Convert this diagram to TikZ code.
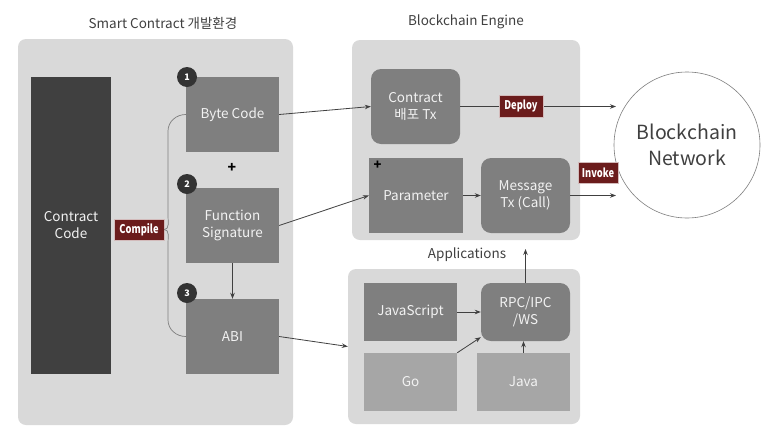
\documentclass[tikz,border=0pt]{standalone}
\usepackage{fontspec}
\setmainfont{Noto Sans CJK KR}
\usetikzlibrary{arrows.meta}
\definecolor{panel}{HTML}{D9D9D9}
\definecolor{boxg}{HTML}{7F7F7F}
\definecolor{boxl}{HTML}{A6A6A6}
\definecolor{darkbox}{HTML}{404040}
\definecolor{labred}{HTML}{6B1C1C}
\definecolor{txtdark}{HTML}{404040}
\definecolor{boxtxt}{HTML}{F2F2F2}
\definecolor{linec}{HTML}{404040}
\newcommand{\tagtxt}[1]{\scalebox{0.78}[1]{#1}}
\begin{document}
\begin{tikzpicture}[x=1pt,y=-1pt,
  panelbox/.style={fill=panel, rounded corners=8pt, inner sep=0pt, draw=none},
  gbox/.style={fill=boxg, text=boxtxt, inner sep=0pt, align=center, font=\fontsize{13.5}{17}\selectfont},
  rbox/.style={gbox, rounded corners=10pt},
  lbox/.style={gbox, fill=boxl},
  tag/.style={fill=labred, draw=white!70!labred, line width=0.4pt, text=white, inner sep=0pt, font=\fontsize{12}{12}\selectfont\bfseries},
  badge/.style={circle, fill=black!80, text=white, inner sep=0pt, minimum size=20pt, font=\fontsize{9}{9}\selectfont\bfseries},
  ttl/.style={text=txtdark, font=\fontsize{13.5}{16}\selectfont},
  conn/.style={draw=linec, line width=0.8pt, -{Stealth[length=6pt,width=4.5pt]}},
  bracket/.style={draw=boxg, line width=0.7pt}
]
\useasboundingbox (0,0) rectangle (768,437);
% panels
\node[panelbox, minimum width=275pt, minimum height=386pt] (leftp) at (155.5,232) {};
\node[panelbox, minimum width=228pt, minimum height=200pt] (engp) at (466,140) {};
\node[panelbox, minimum width=232pt, minimum height=155pt] (appp) at (464,346.5) {};
% titles
\node[ttl] (t1) at (163,23) {Smart Contract 개발환경};
\node[ttl] (t2) at (466,22) {Blockchain Engine};
\node[ttl] (t3) at (467,255) {Applications};
% network circle
\node[circle, draw=boxg, line width=0.6pt, fill=white, minimum size=146pt, inner sep=0pt, align=center,
      text=txtdark, font=\fontsize{19.5}{26}\selectfont] (net) at (687,145) {Blockchain\\Network};
% left boxes
\node[gbox, fill=darkbox, minimum width=80pt, minimum height=297pt] (cc) at (71,225.5) {Contract\\Code};
\node[gbox, minimum width=93pt, minimum height=75pt] (bc) at (232.5,114.5) {Byte Code};
\node[gbox, minimum width=93pt, minimum height=75pt] (fs) at (232.5,225.5) {Function\\Signature};
\node[gbox, minimum width=93pt, minimum height=75pt] (abi) at (232.5,336.5) {ABI};
\node[font=\fontsize{14}{14}\selectfont\bfseries] (plus1) at (232,168) {+};
% engine boxes
\node[rbox, minimum width=89pt, minimum height=75pt] (ctx) at (415.5,106.5) {Contract\\배포 Tx};
\node[gbox, minimum width=94pt, minimum height=75pt] (par) at (416,195.5) {Parameter};
\node[rbox, minimum width=89pt, minimum height=75pt] (msg) at (525.5,195.5) {Message\\Tx (Call)};
\node[font=\fontsize{13}{13}\selectfont\bfseries] (plus2) at (377.5,165) {+};
% application boxes
\node[gbox, minimum width=93pt, minimum height=58pt] (js) at (410.5,312) {JavaScript};
\node[rbox, minimum width=89pt, minimum height=58pt] (rpc) at (525.5,312) {RPC/IPC\\/WS};
\node[lbox, minimum width=93pt, minimum height=58pt] (go) at (410.5,382) {Go};
\node[lbox, minimum width=93pt, minimum height=58pt] (java) at (523.5,382) {Java};
% coordinates for free ends
\coordinate (depend) at (616,106.5);
\coordinate (invend) at (616,195.5);
\coordinate (upend) at (525.5,249);
% compile tag (needed for bracket)
\node[tag, minimum width=50pt, minimum height=21pt] (comp) at (139,229.5) {\tagtxt{Compile}};
% bracket
\draw[bracket] (bc.west) to[out=180,in=90] (168,131) -- (168,216) to[out=270,in=0] (comp.east);
\draw[bracket] (comp.east) to[out=0,in=90] (168,243) -- (168,320) to[out=270,in=180] (abi.west);
% connectors
\draw[conn] (bc.east) -- (ctx.west);
\draw[conn] (fs.east) -- (par.west);
\draw[conn] (fs.south) -- (abi.north);
\draw[conn] (abi.east) -- (appp.west);
\draw[conn] (ctx.east) -- (depend);
\draw[conn] (par.east) -- (msg.west);
\draw[conn] (msg.east) -- (invend);
\draw[conn] (js.east) -- (rpc.west);
\draw[conn] (go.north east) -- ([shift={(0,-4)}]rpc.south west);
\draw[conn] (java.north) -- (java.north |- rpc.south);
\draw[conn] (rpc.north) -- (upend);
% tags on top
\node[tag, minimum width=44pt, minimum height=22pt] (dep) at (521,106) {\tagtxt{Deploy}};
\node[tag, minimum width=40pt, minimum height=21pt] (inv) at (598,172.5) {\tagtxt{Invoke}};
% badges
\node[badge] (b1) at (187,77) {1};
\node[badge] (b2) at (187,184) {2};
\node[badge] (b3) at (187,293) {3};
\end{tikzpicture}
\end{document}
